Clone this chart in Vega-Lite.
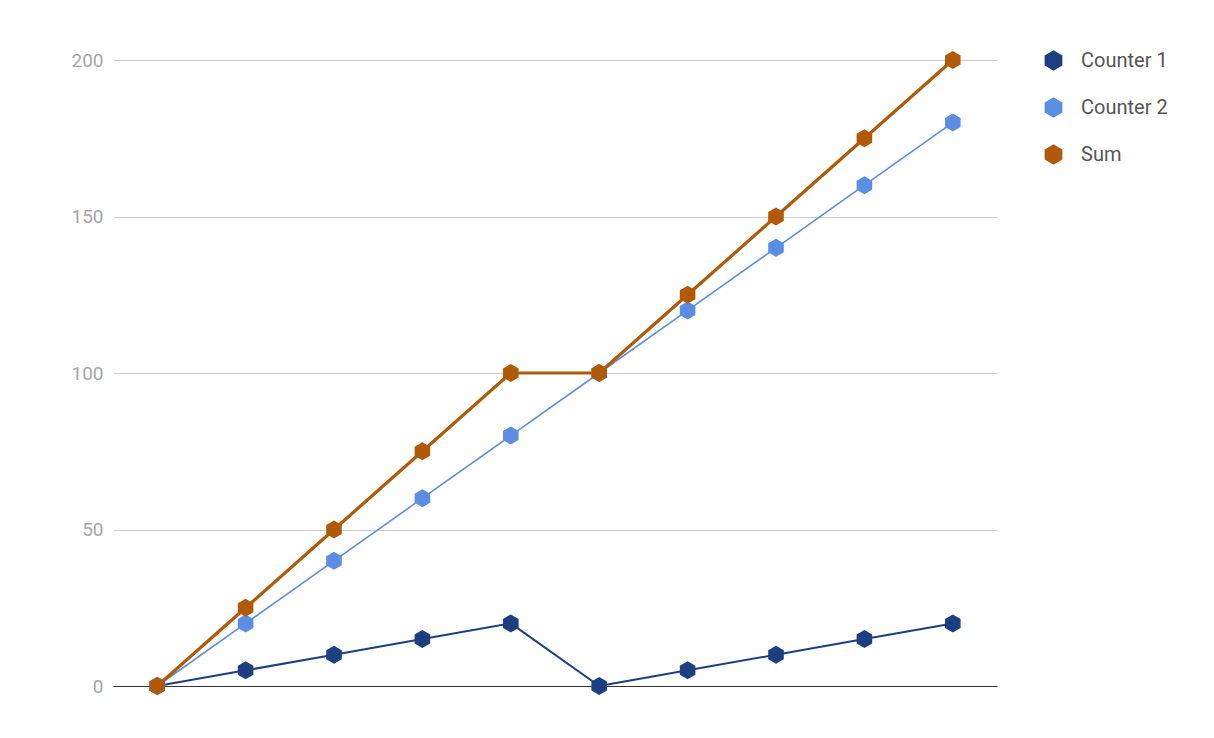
{
  "$schema": "https://vega.github.io/schema/vega-lite/v6.json",
  "autosize": {"type": "none"},
  "padding": {"left": 113, "top": 60, "right": 217, "bottom": 52},
  "width": 884,
  "height": 626,
  "background": "white",
  "config": {
    "view": {"stroke": null},
    "font": "Roboto"
  },
  "data": {
    "values": [
      {"i": 0, "series": "Counter 1", "value": 0},
      {"i": 1, "series": "Counter 1", "value": 5},
      {"i": 2, "series": "Counter 1", "value": 10},
      {"i": 3, "series": "Counter 1", "value": 15},
      {"i": 4, "series": "Counter 1", "value": 20},
      {"i": 5, "series": "Counter 1", "value": 0},
      {"i": 6, "series": "Counter 1", "value": 5},
      {"i": 7, "series": "Counter 1", "value": 10},
      {"i": 8, "series": "Counter 1", "value": 15},
      {"i": 9, "series": "Counter 1", "value": 20},
      {"i": 0, "series": "Counter 2", "value": 0},
      {"i": 1, "series": "Counter 2", "value": 20},
      {"i": 2, "series": "Counter 2", "value": 40},
      {"i": 3, "series": "Counter 2", "value": 60},
      {"i": 4, "series": "Counter 2", "value": 80},
      {"i": 5, "series": "Counter 2", "value": 100},
      {"i": 6, "series": "Counter 2", "value": 120},
      {"i": 7, "series": "Counter 2", "value": 140},
      {"i": 8, "series": "Counter 2", "value": 160},
      {"i": 9, "series": "Counter 2", "value": 180},
      {"i": 0, "series": "Sum", "value": 0},
      {"i": 1, "series": "Sum", "value": 25},
      {"i": 2, "series": "Sum", "value": 50},
      {"i": 3, "series": "Sum", "value": 75},
      {"i": 4, "series": "Sum", "value": 100},
      {"i": 5, "series": "Sum", "value": 100},
      {"i": 6, "series": "Sum", "value": 125},
      {"i": 7, "series": "Sum", "value": 150},
      {"i": 8, "series": "Sum", "value": 175},
      {"i": 9, "series": "Sum", "value": 200}
    ]
  },
  "encoding": {
    "x": {
      "field": "i",
      "type": "quantitative",
      "scale": {"domain": [-0.5, 9.5], "nice": false, "zero": false},
      "axis": {
        "title": null,
        "labels": false,
        "ticks": false,
        "grid": false,
        "domain": true,
        "domainColor": "#333333",
        "domainWidth": 1.2
      }
    },
    "y": {
      "field": "value",
      "type": "quantitative",
      "scale": {"domain": [0, 200], "nice": false},
      "axis": {
        "title": null,
        "values": [0, 50, 100, 150, 200],
        "domain": false,
        "ticks": false,
        "grid": true,
        "gridColor": "#cccccc",
        "gridWidth": 1,
        "labelColor": "#a6a6a6",
        "labelFontSize": 19,
        "labelFont": "Roboto",
        "labelPadding": 10
      }
    }
  },
  "layer": [
    {
      "transform": [{"filter": "datum.series === 'Counter 1'"}],
      "mark": {"type": "line", "strokeWidth": 2, "color": "#1c3f82", "strokeJoin": "round"},
      "encoding": {"order": {"field": "i", "type": "quantitative"}}
    },
    {
      "transform": [{"filter": "datum.series === 'Counter 2'"}],
      "mark": {"type": "line", "strokeWidth": 1.6, "color": "#5b8de3", "strokeJoin": "round"},
      "encoding": {"order": {"field": "i", "type": "quantitative"}}
    },
    {
      "transform": [{"filter": "datum.series === 'Sum'"}],
      "mark": {"type": "line", "strokeWidth": 3.2, "color": "#b05a08", "strokeJoin": "round"},
      "encoding": {"order": {"field": "i", "type": "quantitative"}}
    },
    {
      "mark": {
        "type": "point",
        "filled": true,
        "opacity": 1,
        "strokeWidth": 0,
        "size": 324,
        "shape": "M0,-1L0.866,-0.5L0.866,0.5L0,1L-0.866,0.5L-0.866,-0.5Z"
      },
      "encoding": {
        "fill": {
          "field": "series",
          "type": "nominal",
          "scale": {"domain": ["Counter 1", "Counter 2", "Sum"], "range": ["#1c3f82", "#5b8de3", "#b05a08"]},
          "legend": {
            "title": null,
            "orient": "none",
            "legendX": 930,
            "legendY": -10,
            "symbolType": "M0,-1L0.866,-0.5L0.866,0.5L0,1L-0.866,0.5L-0.866,-0.5Z",
            "symbolSize": 420,
            "symbolStrokeWidth": 0,
            "symbolOpacity": 1,
            "labelFontSize": 20,
            "labelFont": "Roboto",
            "labelColor": "#555555",
            "labelOffset": 17,
            "rowPadding": 26
          }
        }
      }
    }
  ]
}
